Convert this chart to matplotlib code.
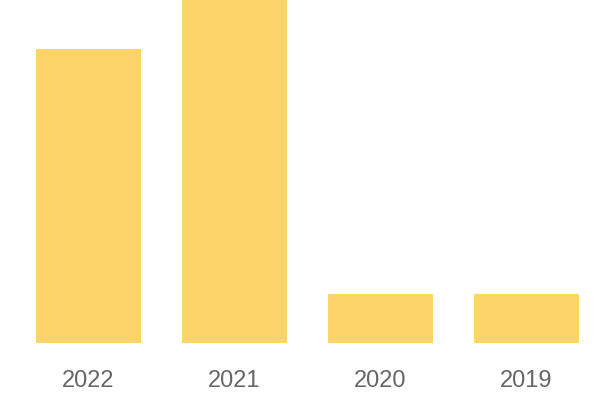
import matplotlib
matplotlib.use("Agg")
import matplotlib.pyplot as plt

years = ["2022", "2021", "2020", "2019"]
values = [6, 7, 1, 1]

fig = plt.figure(figsize=(6, 4), dpi=100)
ax = fig.add_axes([15.5 / 600, 57 / 400, 584 / 600, 343 / 400])

ax.bar(range(len(years)), values, width=0.72, color="#FDD46A")
ax.set_xlim(-0.5, len(years) - 0.5)
ax.set_ylim(0, 7)

ax.set_xticks(range(len(years)))
ax.set_xticklabels(years, fontfamily="Liberation Sans", fontsize=17, color="#666666")
ax.tick_params(axis="x", length=0, pad=19.5)
ax.set_yticks([])
for s in ax.spines.values():
    s.set_visible(False)

fig.savefig("out.png", dpi=100)
